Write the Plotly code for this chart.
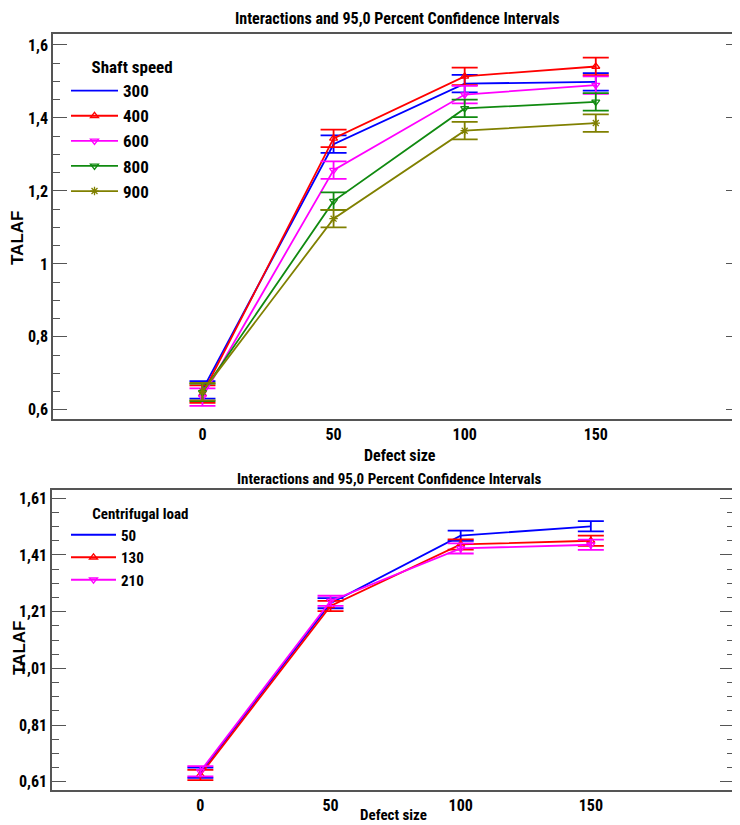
import plotly.graph_objects as go

# ---------------- data ----------------
defect_size = [0, 50, 100, 150]

# Top chart: Shaft speed
shaft_speeds = ["300", "400", "600", "800", "900"]
talaf_300 = [0.655, 1.328, 1.494, 1.499]
talaf_400 = [0.643, 1.344, 1.514, 1.541]
talaf_600 = [0.635, 1.257, 1.464, 1.490]
talaf_800 = [0.648, 1.172, 1.426, 1.444]
talaf_900 = [0.650, 1.124, 1.365, 1.386]
ci_top = [0.024, 0.024, 0.024, 0.024]

# Bottom chart: Centrifugal load
loads = ["50", "130", "210"]
talaf_50 = [0.642, 1.240, 1.478, 1.511]
talaf_130 = [0.634, 1.230, 1.447, 1.460]
talaf_210 = [0.647, 1.248, 1.433, 1.446]
ci_bot = [0.018, 0.018, 0.018, 0.018]

top_ticks = [0.6, 0.8, 1.0, 1.2, 1.4, 1.6]
bot_ticks = [0.61, 0.81, 1.01, 1.21, 1.41, 1.61]

# ---------------- style ----------------
NARROW = "Liberation Sans Narrow, Arial Narrow, Roboto Condensed, Liberation Sans, Arial"
WIDE = "Liberation Sans, Arial"
BLUE, RED, MAG, GREEN, OLIVE = "#0000ff", "#ff0000", "#ff00ff", "#108a10", "#808000"

fig = go.Figure()

top_series = [
    ("300", talaf_300, BLUE, None),
    ("400", talaf_400, RED, "triangle-up-open"),
    ("600", talaf_600, MAG, "triangle-down-open"),
    ("800", talaf_800, GREEN, "triangle-down-open"),
    ("900", talaf_900, OLIVE, "asterisk-open"),
]
for name, ys, col, sym in top_series:
    fig.add_trace(go.Scatter(
        x=defect_size, y=ys, name=name, xaxis="x", yaxis="y",
        mode="lines+markers" if sym else "lines",
        line=dict(color=col, width=1.8),
        marker=dict(symbol=sym or "circle", size=7, color=col,
                    line=dict(color=col, width=1.3)),
        error_y=dict(type="data", array=ci_top, width=13, thickness=1.8, color=col),
        legend="legend",
    ))

bot_series = [
    ("50", talaf_50, BLUE, None),
    ("130", talaf_130, RED, "triangle-up-open"),
    ("210", talaf_210, MAG, "triangle-down-open"),
]
for name, ys, col, sym in bot_series:
    fig.add_trace(go.Scatter(
        x=defect_size, y=ys, name=name, xaxis="x2", yaxis="y2",
        mode="lines+markers" if sym else "lines",
        line=dict(color=col, width=1.8),
        marker=dict(symbol=sym or "circle", size=7, color=col,
                    line=dict(color=col, width=1.3)),
        error_y=dict(type="data", array=ci_bot, width=13, thickness=1.8, color=col),
        legend="legend2",
    ))

# page has an 8px body margin: size the figure to fit the 740x825 window
OFF = 8
W, H = 740 - OFF, 825 - OFF
def fx(X):  # window pixel -> paper x
    return (X - OFF) / W
def fy(Y):  # window pixel -> paper y
    return 1 - (Y - OFF) / H

axis_common = dict(showline=True, linecolor="#555555", linewidth=1.5,
                   showgrid=False, zeroline=False, automargin=False)
tickfont = dict(family=NARROW, size=16, color="black", weight="bold")
minor_common = dict(dtick=0.05, ticks="inside", ticklen=7, tickcolor="#555555", tickwidth=1.2)

fig.update_layout(
    width=W, height=H, margin=dict(l=0, r=0, t=0, b=0, autoexpand=False),
    paper_bgcolor="white", plot_bgcolor="white",
    separators=",.",
    xaxis=dict(domain=[fx(53), 1.0], range=[-57, 205], anchor="y", mirror=True,
               tickvals=defect_size, ticks="", tickfont=tickfont, **axis_common),
    yaxis=dict(domain=[fy(419), fy(34)], range=[0.575, 1.63], anchor="x", mirror="ticks",
               tickvals=top_ticks, ticks="inside", ticklen=14, tickcolor="#555555",
               tickwidth=1.2, tickfont=tickfont,
               minor=dict(tick0=0.6, **minor_common),
               **axis_common),
    xaxis2=dict(domain=[fx(52), fx(734)], range=[-57, 205], anchor="y2", mirror=True,
                tickvals=defect_size, ticks="", tickfont=tickfont, **axis_common),
    yaxis2=dict(domain=[fy(790), fy(490)], range=[0.581, 1.639], anchor="x2", mirror="ticks",
                tickvals=bot_ticks, ticks="inside", ticklen=14, tickcolor="#555555",
                tickwidth=1.2, tickfont=tickfont,
                minor=dict(tick0=0.61, **minor_common),
                **axis_common),
    legend=dict(x=fx(66), y=fy(51), xanchor="left", yanchor="top",
                bgcolor="rgba(0,0,0,0)",
                title=dict(text="      Shaft speed",
                           font=dict(family=NARROW, size=17, color="black", weight="bold")),
                font=dict(family=NARROW, size=17, color="black", weight="bold"),
                tracegroupgap=0, itemwidth=47),
    legend2=dict(x=fx(66), y=fy(499), xanchor="left", yanchor="top",
                 bgcolor="rgba(0,0,0,0)",
                 title=dict(text="       Centrifugal load",
                            font=dict(family=NARROW, size=15, color="black", weight="bold")),
                 font=dict(family=NARROW, size=15, color="black", weight="bold"),
                 tracegroupgap=0, itemwidth=45),
    showlegend=True,
)

ann = [
    dict(text="Interactions and 95,0 Percent Confidence Intervals", x=fx(397), y=fy(18),
         font=dict(family=NARROW, size=16, color="black", weight="bold")),
    dict(text="Defect size", x=fx(400), y=fy(456),
         font=dict(family=NARROW, size=16, color="black", weight="bold")),
    dict(text="TALAF", x=fx(18), y=fy(238), textangle=-90,
         font=dict(family=WIDE, size=17, color="black", weight="bold")),
    dict(text="Interactions and 95,0 Percent Confidence Intervals", x=fx(389), y=fy(479),
         font=dict(family=NARROW, size=15, color="black", weight="bold")),
    dict(text="Defect size", x=fx(393), y=fy(815),
         font=dict(family=NARROW, size=15, color="black", weight="bold")),
    dict(text="TALAF", x=fx(19), y=fy(648), textangle=-90,
         font=dict(family=WIDE, size=17, color="black", weight="bold")),
]
for a in ann:
    fig.add_annotation(xref="paper", yref="paper", showarrow=False,
                       xanchor="center", yanchor="middle", **a)

fig.write_html("out.html")
